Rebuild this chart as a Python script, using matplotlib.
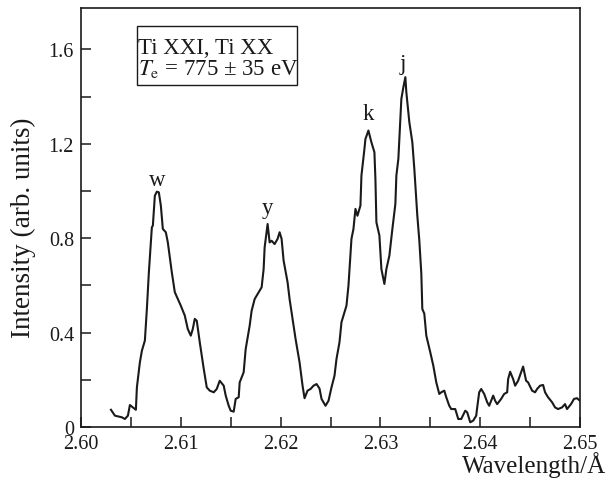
import matplotlib
matplotlib.use("Agg")
import matplotlib.pyplot as plt
from matplotlib.ticker import MultipleLocator
from matplotlib.patches import Rectangle

plt.rcParams['font.family'] = ['Liberation Serif', 'DejaVu Serif']
plt.rcParams['mathtext.fontset'] = 'stix'

wavelength = [
    2.6030, 2.6034, 2.6037, 2.6041, 2.6044, 2.6047, 2.6049, 2.6052, 2.6055, 2.6056,
    2.6059, 2.6061, 2.6064, 2.6066, 2.6068, 2.6071, 2.6072, 2.6074, 2.6076, 2.6078,
    2.6080, 2.6082, 2.6085, 2.6087, 2.6091, 2.6094, 2.6097, 2.6100, 2.6104, 2.6107,
    2.6110, 2.6112, 2.6114, 2.6116, 2.6119, 2.6123, 2.6126, 2.6129, 2.6133,
    2.6136, 2.6139, 2.6143, 2.6145, 2.6148, 2.6150, 2.6153, 2.6155, 2.6158, 2.6159,
    2.6163, 2.6165, 2.6169, 2.6171, 2.6174, 2.6178, 2.6181, 2.6183, 2.6184, 2.6187,
    2.6189, 2.6191, 2.6194, 2.6197, 2.6199, 2.6201, 2.6203, 2.6207, 2.6209, 2.6212,
    2.6215, 2.6219, 2.6222, 2.6224, 2.6227, 2.6230, 2.6233, 2.6236, 2.6239,
    2.6241, 2.6245, 2.6248, 2.6251, 2.6254, 2.6256, 2.6259, 2.6261, 2.6264, 2.6266,
    2.6268, 2.6271, 2.6273, 2.6275, 2.6277, 2.6280, 2.6281, 2.6284, 2.6285, 2.6288,
    2.6291, 2.6294, 2.6295, 2.6296, 2.6299, 2.6301, 2.6304, 2.6306, 2.6309, 2.6312,
    2.6315, 2.6316, 2.6318, 2.6321, 2.6323, 2.6325, 2.6326, 2.6329, 2.6332, 2.6334,
    2.6337, 2.6339, 2.6341, 2.6342, 2.6344, 2.6346,
    2.6350, 2.6353, 2.6356, 2.6359, 2.6361, 2.6364, 2.6366, 2.6369, 2.6371,
    2.6375, 2.6378, 2.6381, 2.6385, 2.6387, 2.6390, 2.6393, 2.6396, 2.6397, 2.6399,
    2.6401, 2.6404, 2.6407, 2.6409, 2.6413, 2.6415, 2.6417, 2.6421, 2.6424, 2.6427,
    2.6428, 2.6430, 2.6433, 2.6435, 2.6438, 2.6441, 2.6443, 2.6446, 2.6448, 2.6452,
    2.6455, 2.6457, 2.6460, 2.6463, 2.6465, 2.6468, 2.6472, 2.6475, 2.6478, 2.6482,
    2.6485, 2.6487, 2.6491, 2.6494, 2.6497, 2.6500,
]
intensity = [
    0.073, 0.048, 0.045, 0.041, 0.034, 0.048, 0.093, 0.083, 0.073, 0.168,
    0.274, 0.323, 0.366, 0.500, 0.655, 0.846, 0.853, 0.980, 0.997, 0.994,
    0.938, 0.839, 0.825, 0.782, 0.655, 0.571, 0.542, 0.514, 0.472, 0.415,
    0.387, 0.415, 0.458, 0.450, 0.359, 0.246, 0.168, 0.154, 0.147,
    0.161, 0.196, 0.175, 0.133, 0.090, 0.069, 0.065, 0.119, 0.126, 0.189,
    0.232, 0.330, 0.429, 0.493, 0.542, 0.571, 0.592, 0.669, 0.761, 0.860,
    0.782, 0.789, 0.775, 0.797, 0.825, 0.797, 0.705, 0.613, 0.542, 0.458,
    0.373, 0.274, 0.175, 0.122, 0.154, 0.161, 0.175, 0.182, 0.163,
    0.119, 0.090, 0.111, 0.168, 0.217, 0.288, 0.359, 0.444, 0.486, 0.514,
    0.599, 0.797, 0.839, 0.924, 0.895, 0.938, 1.065, 1.178, 1.220, 1.256,
    1.206, 1.164, 1.051, 0.867, 0.811, 0.669, 0.606, 0.669, 0.726, 0.839,
    0.945, 1.065, 1.136, 1.390, 1.439, 1.482, 1.418, 1.291, 1.206, 1.093,
    0.895, 0.790, 0.650, 0.500, 0.480, 0.387,
    0.316, 0.260, 0.189, 0.140, 0.147, 0.154, 0.126, 0.090, 0.076,
    0.076, 0.034, 0.034, 0.069, 0.062, 0.020, 0.027, 0.048, 0.083, 0.147,
    0.161, 0.140, 0.105, 0.090, 0.133, 0.111, 0.097, 0.119, 0.140, 0.147,
    0.203, 0.234, 0.203, 0.175, 0.196, 0.232, 0.256, 0.196, 0.189, 0.154,
    0.147, 0.161, 0.175, 0.178, 0.147, 0.126, 0.105, 0.083, 0.076, 0.083,
    0.097, 0.076, 0.097, 0.119, 0.122, 0.111,
]

peak_labels = ['w', 'y', 'k', 'j']
peak_x = [2.6076, 2.6187, 2.6288, 2.6322]
peak_y = [1.047, 0.928, 1.326, 1.54]

fs = 14.5
fs_lab = 19.5
fs_ann = 16.5
ink = '#1a1a1a'
fig = plt.figure(figsize=(6.10, 4.81), dpi=100)
ax = fig.add_axes([81/610, 1 - 428/481, 499/610, 419/481])
ax.plot(wavelength, intensity, color=ink, lw=1.5)
ax.set_xlim(2.60, 2.65)
ax.set_ylim(0, 1.775)

ax.xaxis.set_minor_locator(MultipleLocator(0.005))
ax.yaxis.set_minor_locator(MultipleLocator(0.2))
ax.set_xticks([2.60, 2.61, 2.62, 2.63, 2.64, 2.65])
ax.set_xticklabels(['2.60', '2.61', '2.62', '2.63', '2.64', '2.65'])
ax.set_yticks([0, 0.4, 0.8, 1.2, 1.6])
ax.set_yticklabels(['0', '0.4', '0.8', '1.2', '1.6'])
ax.tick_params(which='both', direction='in', length=7, width=1.1, labelsize=fs,
               top=False, right=False, colors=ink)
ax.tick_params(axis='x', pad=5)
ax.tick_params(axis='y', pad=5)
for s in ax.spines.values():
    s.set_linewidth(1.2)
    s.set_color(ink)

ax.set_ylabel('Intensity (arb. units)', fontsize=fs_lab, color=ink)
ax.yaxis.set_label_coords(-0.090, 0.477)
fig.text(606/610, 1 - 473/481, 'Wavelength/Å', fontsize=18, ha='right', va='baseline',
         color=ink)

for lab, px, py in zip(peak_labels, peak_x, peak_y):
    ax.text(px, py, lab, fontsize=fs_ann, ha='center', va='center', color=ink)

# annotation box
ax.add_patch(Rectangle((0.1116, 0.8162), 0.4335 - 0.1116, 0.9563 - 0.8162,
                       transform=ax.transAxes, fill=True, fc='white', ec=ink, lw=1.0,
                       zorder=3))
ax.text(0.1150, 0.893, 'Ti XXI, Ti XX', transform=ax.transAxes, fontsize=fs_ann,
        ha='left', va='baseline', color=ink, zorder=4)
ax.text(0.1150, 0.843, '$T_{\\rm e}$ = 775 ± 35 eV', transform=ax.transAxes,
        fontsize=fs_ann, ha='left', va='baseline', color=ink, zorder=4)

fig.savefig('out.png', dpi=100)
